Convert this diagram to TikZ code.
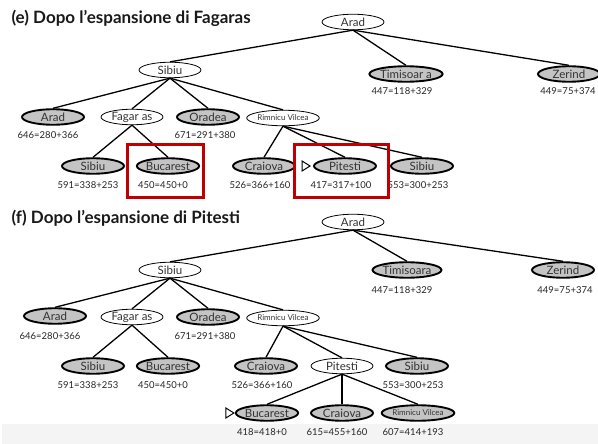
\documentclass[tikz,border=0pt]{standalone}
\usepackage{fontspec}
\setmainfont{Lato}
\usetikzlibrary{shapes.geometric,calc}
\definecolor{frontfill}{HTML}{C4C4C4}
\definecolor{boxred}{HTML}{C00000}
\definecolor{band}{HTML}{F4F4F4}
\tikzset{
  expanded/.style={ellipse, draw, line width=0.8pt, fill=white,
    minimum width=62pt, minimum height=15.5pt, inner sep=0pt,
    font=\fontsize{11.5}{12}\selectfont, text=black!80},
  frontier/.style={expanded, line width=1.9pt, fill=frontfill},
  tiny/.style={font=\fontsize{8}{9}\selectfont},
  cost/.style={font=\fontsize{9.5}{10}\selectfont, text=black!85},
  branch/.style={line width=1.3pt},
  redbox/.style={draw=boxred, line width=3pt},
  marker/.style={draw, line width=1pt, fill=white},
  heading/.style={anchor=base west, font=\fontsize{17}{19}\selectfont\bfseries, text=black!90}
}
\begin{document}
\begin{tikzpicture}[x=1pt,y=-1pt]
\useasboundingbox (0,0) rectangle (598,444);
\fill[band] (2,424) rectangle (598,444);

% ---------- (e) after expanding Fagaras ----------
\node[heading] (te) at (8,24) {(e) Dopo l’espansione di Fagaras};

\node[expanded] (eA) at (353,22) {Arad};
\node[expanded] (eS) at (170,70) {Sibiu};
\node[frontier] (eT) at (406,74) {Timisoar a};
\node[frontier] (eZ) at (569,74) {Zerind};

\node[frontier] (eSA) at (53,117) {Arad};
\node[expanded] (eSF) at (132,117) {Fagar as};
\node[frontier] (eSO) at (208,117) {Oradea};
\node[expanded, tiny] (eSR) at (283,118) {Rimnicu Vilcea};

\node[frontier] (eFS) at (93,166) {Sibiu};
\node[frontier] (eFB) at (168,166) {Bucarest};
\node[frontier] (eRC) at (264,166) {Craiova};
\node[frontier] (eRP) at (345,166) {Pitesti};
\node[frontier] (eRS) at (422,166) {Sibiu};

\draw[branch] (eA.south) -- (eS.north);
\draw[branch] (eA.south) -- (eT.north);
\draw[branch] (eA.south) -- (eZ.north);
\draw[branch] (eS.south) -- (eSA.north);
\draw[branch] (eS.south) -- (eSF.north);
\draw[branch] (eS.south) -- (eSO.north);
\draw[branch] (eS.south) -- (eSR.north);
\draw[branch] (eSF.south) -- (eFS.north);
\draw[branch] (eSF.south) -- (eFB.north);
\draw[branch] (eSR.south) -- (eRC.north);
\draw[branch] (eSR.south) -- (eRP.north);
\draw[branch] (eSR.south) -- (eRS.north);

\node[cost] (ceT) at (402,91) {447=118+329};
\node[cost] (ceZ) at (568,91) {449=75+374};
\node[cost] (ceSA) at (48,135) {646=280+366};
\node[cost] (ceSO) at (205,135) {671=291+380};
\node[cost] (ceFS) at (88,185) {591=338+253};
\node[cost] (ceFB) at (163,185) {450=450+0};
\node[cost] (ceRC) at (260,185) {526=366+160};
\node[cost] (ceRP) at (341,185) {417=317+100};
\node[cost] (ceRS) at (418,185) {553=300+253};

% next node to expand
\coordinate (me) at ($(eRP.west)+(-3,0)$);
\draw[marker] (me) -- ++(-8,-5) -- ++(0,10) -- cycle;

\draw[redbox] (127.5,144.5) rectangle (203.5,197.5);
\draw[redbox] (294.5,144.5) rectangle (388.5,197.5);

% ---------- (f) after expanding Pitesti ----------
\node[heading] (tf) at (8,223) {(f) Dopo l’espansione di Pitesti};

\node[expanded] (fA) at (353,222) {Arad};
\node[expanded] (fS) at (170,270) {Sibiu};
\node[frontier] (fT) at (407,270) {Timisoara};
\node[frontier] (fZ) at (563,270) {Zerind};

\node[frontier] (fSA) at (55,316) {Arad};
\node[expanded] (fSF) at (132,317) {Fagar as};
\node[frontier] (fSO) at (208,317) {Oradea};
\node[expanded, tiny] (fSR) at (283,318) {Rimnicu Vilcea};

\node[frontier] (fFS) at (93,366) {Sibiu};
\node[frontier] (fFB) at (168,366) {Bucarest};
\node[frontier] (fRC) at (266,366) {Craiova};
\node[expanded] (fRP) at (342,366) {Pitesti};
\node[frontier] (fRS) at (417,366) {Sibiu};

\node[frontier] (fPB) at (267,413) {Bucarest};
\node[frontier] (fPC) at (342,413) {Craiova};
\node[frontier, tiny] (fPR) at (418,413) {Rimnicu Vilcea};

\draw[branch] (fA.south) -- (fS.north);
\draw[branch] (fA.south) -- (fT.north);
\draw[branch] (fA.south) -- (fZ.north);
\draw[branch] (fS.south) -- (fSA.north);
\draw[branch] (fS.south) -- (fSF.north);
\draw[branch] (fS.south) -- (fSO.north);
\draw[branch] (fS.south) -- (fSR.north);
\draw[branch] (fSF.south) -- (fFS.north);
\draw[branch] (fSF.south) -- (fFB.north);
\draw[branch] (fSR.south) -- (fRC.north);
\draw[branch] (fSR.south) -- (fRP.north);
\draw[branch] (fSR.south) -- (fRS.north);
\draw[branch] (fRP.south) -- (fPB.north);
\draw[branch] (fRP.south) -- (fPC.north);
\draw[branch] (fRP.south) -- (fPR.north);

\node[cost] (cfT) at (402,290) {447=118+329};
\node[cost] (cfZ) at (565,290) {449=75+374};
\node[cost] (cfSA) at (50,336) {646=280+366};
\node[cost] (cfSO) at (205,336) {671=291+380};
\node[cost] (cfFS) at (88,385) {591=338+253};
\node[cost] (cfFB) at (163,385) {450=450+0};
\node[cost] (cfRC) at (262,385) {526=366+160};
\node[cost] (cfRS) at (413,385) {553=300+253};
\node[cost] (cfPB) at (262,432) {418=418+0};
\node[cost] (cfPC) at (337,432) {615=455+160};
\node[cost] (cfPR) at (413,432) {607=414+193};

\coordinate (mf) at ($(fPB.west)+(-1,0)$);
\draw[marker] (mf) -- ++(-8,-5) -- ++(0,10) -- cycle;
\end{tikzpicture}
\end{document}
